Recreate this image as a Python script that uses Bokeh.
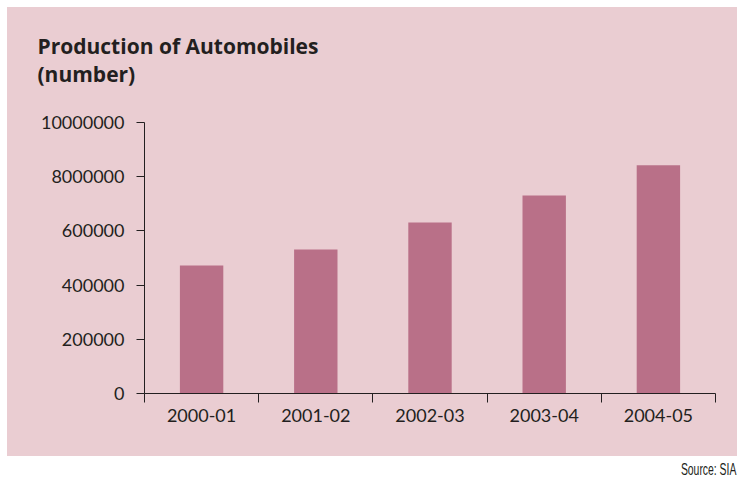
from bokeh.plotting import figure
from bokeh.models import FixedTicker, Title, Div, Range1d
from bokeh.layouts import column
from bokeh.embed import file_html
from bokeh.resources import INLINE

# ---- data ----
categories = ["2000-01", "2001-02", "2002-03", "2003-04", "2004-05"]
production = [472000, 531000, 631000, 731000, 842000]
y_ticks = [0, 200000, 400000, 600000, 800000, 1000000]
y_tick_labels = ["0", "200000", "400000", "600000", "8000000", "10000000"]
title_lines = ["Production of Automobiles", "(number)"]
source_text = "Source: SIA"

PINK = "#EACDD2"
BAR = "#B97088"
INK = "#231F20"
FONT = "Lato"
TITLE_FONT = "Open Sans"

x_pos = [i + 0.5 for i in range(len(categories))]
bounds = list(range(len(categories) + 1))

p = figure(width=730, height=449,
           x_range=Range1d(0, len(categories)), y_range=Range1d(0, 1000000),
           output_backend="svg", toolbar_location=None,
           min_border_left=137, min_border_right=22,
           min_border_top=115, min_border_bottom=63,
           background_fill_color=None, border_fill_color=None,
           outline_line_color=None)
p.margin = (7, 0, 0, 7)
p.styles = {"background-color": PINK}

p.vbar(x=x_pos, top=production, width=0.38, color=BAR, line_color=None)

p.xgrid.visible = False
p.ygrid.visible = False

xa = p.xaxis[0]
xa.ticker = FixedTicker(ticks=x_pos, minor_ticks=bounds)
xa.major_label_overrides = {x: c for x, c in zip(x_pos, categories)}
xa.major_tick_out = 0
xa.major_tick_in = 0
xa.minor_tick_out = 9
xa.minor_tick_in = 0
xa.minor_tick_line_color = INK
xa.axis_line_color = INK
xa.major_label_text_font = FONT
xa.major_label_text_font_size = "18px"
xa.major_label_text_color = INK
xa.major_label_standoff = 6

ya = p.yaxis[0]
ya.ticker = FixedTicker(ticks=y_ticks)
ya.major_label_overrides = {t: l for t, l in zip(y_ticks, y_tick_labels)}
ya.major_tick_out = 8
ya.major_tick_in = 0
ya.minor_tick_out = 0
ya.minor_tick_in = 0
ya.major_tick_line_color = INK
ya.axis_line_color = INK
ya.major_label_text_font = FONT
ya.major_label_text_font_size = "18px"
ya.major_label_text_color = INK
ya.major_label_standoff = 12

# main title is outermost; then "(number)"; a blank spacer sits next to the frame
p.title.text = title_lines[0]
p.title.align = "left"
p.title.offset = -107
p.title.standoff = -4
p.title.text_font = TITLE_FONT
p.title.text_font_style = "bold"
p.title.text_font_size = "21px"
p.title.text_color = INK

p.add_layout(Title(text=" ", standoff=31, text_font_size="2px"), "above")
p.add_layout(Title(text=title_lines[1], align="left", offset=-107, standoff=0,
                   text_font=TITLE_FONT, text_font_style="bold",
                   text_font_size="21px", text_color=INK), "above")

src = Div(text='<span style="display:inline-block; transform:scaleX(0.65); '
               'transform-origin:100% 50%;">' + source_text + '</span>',
          width=737, height=24, margin=(0, 0, 0, 0),
          styles={"text-align": "right",
                  "font-family": "'Liberation Sans', Arial, sans-serif",
                  "font-size": "16px", "color": INK, "padding-top": "5px",
                  "padding-right": "1px", "box-sizing": "border-box",
                  "line-height": "18px"})

layout = column(p, src, spacing=0)
open("out.html", "w").write(file_html(layout, INLINE))
